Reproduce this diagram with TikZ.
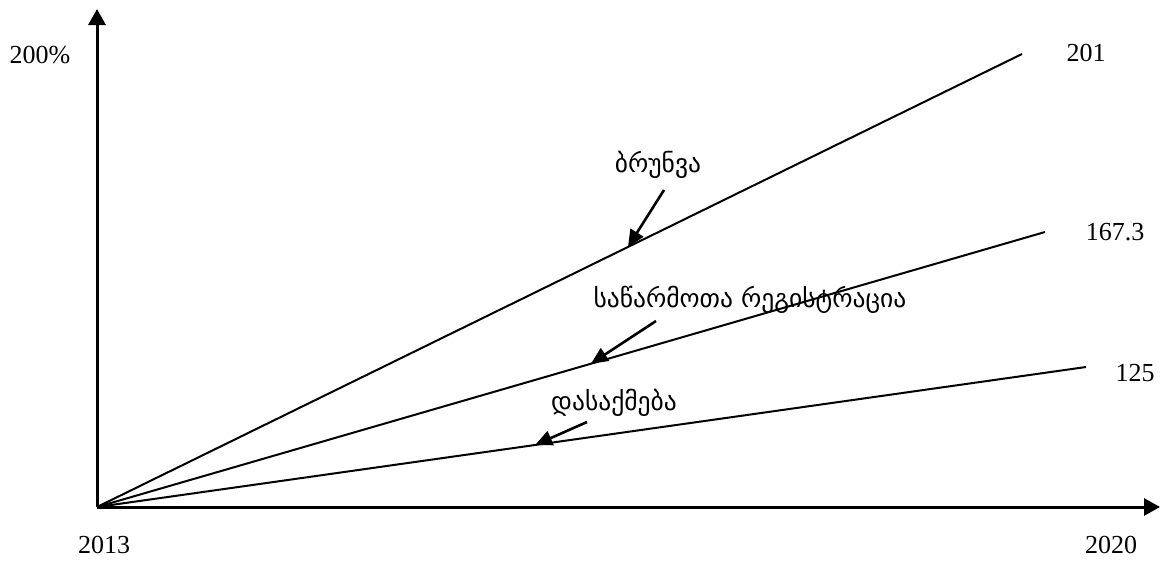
\documentclass[tikz,border=0pt]{standalone}
\usepackage{fontspec}
\setmainfont{Liberation Serif}
\newfontfamily\geofont{DejaVu Sans}
\usetikzlibrary{arrows.meta,calc}
\begin{document}
\begin{tikzpicture}[x=1pt,y=-1pt,
  axis/.style={line width=3pt,-{Triangle[length=16pt,width=17pt]}},
  trend/.style={line width=2pt},
  pointer/.style={line width=2.6pt,-{Triangle[length=17pt,width=15pt]}},
  num/.style={font=\fontsize{26}{30}\selectfont, inner sep=0pt},
  geo/.style={font=\geofont\fontsize{25.5}{30}\selectfont, inner sep=0pt}]
\useasboundingbox (0,0) rectangle (1161,560);
\fill[white] (0,0) rectangle (1161,560);
\coordinate (O) at (97,507);
\coordinate (Ytop) at (97,9);
\coordinate (Xend) at (1160,507);
\coordinate (E1) at (1022,54);
\coordinate (E2) at (1045,232);
\coordinate (E3) at (1086,367);
% trend lines
\draw[trend] (O) -- (E1);
\draw[trend] (O) -- (E2);
\draw[trend] (O) -- (E3);
% axes
\draw[axis] (O) -- (Ytop);
\draw[axis] (O) -- (Xend);
% numeric labels
\node[num] (p200) at (40,55) {200\%};
\node[num] (v201) at (1086,53) {201};
\node[num] (v167) at (1115,232) {167.3};
\node[num] (v125) at (1135,373) {125};
\node[num] (y2013) at (104,545) {2013};
\node[num] (y2020) at (1111,545) {2020};
% georgian labels
\node[geo] (L1) at (658,165) {ბრუნვა};
\node[geo] (L2) at (750,300) {საწარმოთა რეგისტრაცია};
\node[geo] (L3) at (614,403) {დასაქმება};
\coordinate (A1s) at (664,190);
\coordinate (A1e) at ($(O)!0.574!(E1)$);
\coordinate (A2s) at (656,321);
\coordinate (A2e) at ($(O)!0.521!(E2)$);
\coordinate (A3s) at (587,422);
\coordinate (A3e) at ($(O)!0.443!(E3)$);
\draw[pointer] (A1s) -- (A1e);
\draw[pointer] (A2s) -- (A2e);
\draw[pointer] (A3s) -- (A3e);
\end{tikzpicture}
\end{document}
